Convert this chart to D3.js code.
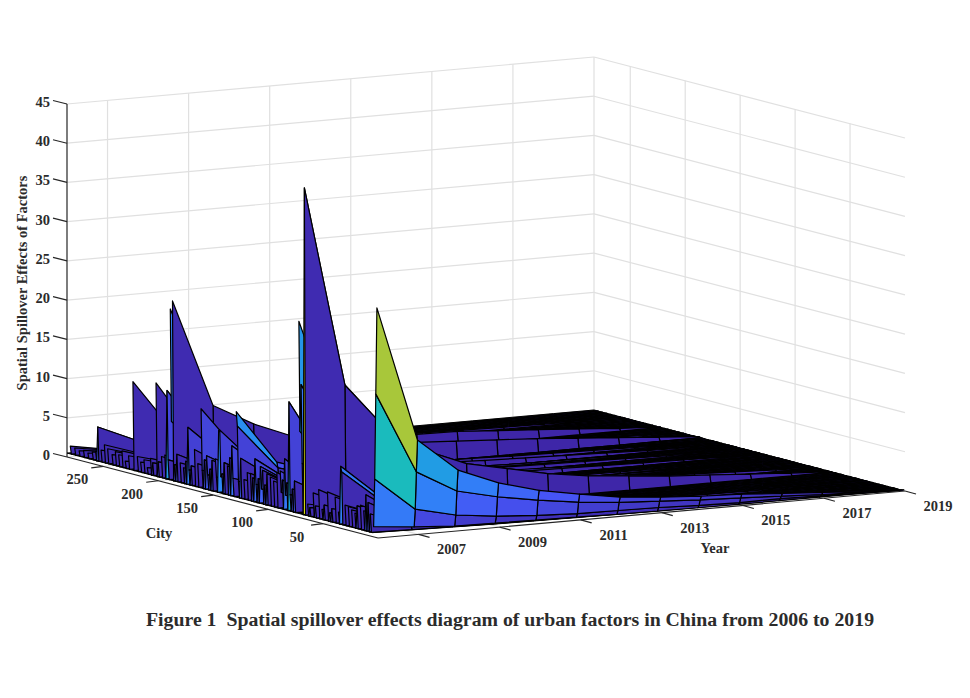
<!DOCTYPE html>
<html>
<head>
<meta charset="utf-8">
<script src="https://cdn.jsdelivr.net/npm/d3@7"></script>
<style>
  html, body { margin: 0; padding: 0; background: #fff; }
  text { font-family: "Liberation Serif", serif; font-weight: bold; fill: #2b2b2b; }
</style>
</head>
<body>
<div id="chart"></div>
<script>
var svgWidth = 970;
var svgHeight = 698;

// Data
var years = [2006, 2007, 2008, 2009, 2010, 2011, 2012, 2013, 2014, 2015, 2016, 2017, 2018, 2019];
var yearTicks = [2007, 2009, 2011, 2013, 2015, 2017, 2019];
var cityTicks = [50, 100, 150, 200, 250];
var valueTicks = [0, 5, 10, 15, 20, 25, 30, 35, 40, 45];
var cityMax = 283;

// the low level of everything that is not a listed city
var floorLevel = [0.5, 0.4, 0.3, 0.2, 0.15, 0.1, 0.05, 0.02, 0, 0, 0, 0, 0, 0];

// the tall spikes, one row of values per city
var cities = [1, 2, 3, 4, 9, 11, 16, 24, 30, 33, 34, 39, 46, 54, 59, 67, 69, 70, 71, 72, 81, 85, 89, 98,
  107, 112, 116, 128, 129, 133, 137, 144, 145, 148, 156, 161, 173, 177, 187, 188, 189, 191, 192, 194,
  202, 205, 210, 223, 230, 239, 246, 255, 257, 264, 280];

var cityValues = [
  [29.3, 12.0, 7.7, 5.6, 4.2, 3.25, 2.4, 1.94, 1.6, 1.4, 1.03, 0.7, 0.35, 0.1],
  [18.3, 7.9, 5.0, 3.8, 2.9, 2.2, 1.7, 1.4, 1.1, 0.9, 0.65, 0.4, 0.2, 0.05],
  [7.4, 3.1, 1.9, 1.3, 0.93, 0.7, 0.63, 0.55, 0.35, 0.25, 0.3, 0.2, 0.05, 0],
  [1.3, 0.8, 0.46, 0.37, 0.3, 0.2, 0.1, 0.05, 0.02, 0, 0, 0, 0, 0],
  [4.2, 1.4, 0.8, 0.5, 0.35, 0.25, 0.2, 0.15, 0.1, 0.1, 0.05, 0.05, 0, 0],
  [5.1, 1.7, 1.0, 0.6, 0.4, 0.3, 0.2, 0.2, 0.1, 0.1, 0.05, 0.05, 0, 0],
  [3.6, 1.3, 0.7, 0.45, 0.3, 0.25, 0.2, 0.1, 0.1, 0.05, 0.05, 0, 0, 0],
  [2.7, 1.0, 0.6, 0.4, 0.3, 0.2, 0.15, 0.1, 0.1, 0.05, 0.05, 0, 0, 0],
  [3.1, 1.2, 0.7, 0.45, 0.3, 0.25, 0.2, 0.1, 0.1, 0.05, 0.05, 0, 0, 0],
  [7.2, 3.0, 1.7, 1.1, 0.8, 0.6, 0.5, 0.4, 0.3, 0.2, 0.15, 0.1, 0.05, 0],
  [7.9, 3.5, 2.0, 1.3, 0.9, 0.7, 0.55, 0.45, 0.35, 0.25, 0.2, 0.1, 0.05, 0],
  [3.8, 1.4, 0.8, 0.5, 0.35, 0.25, 0.2, 0.15, 0.1, 0.1, 0.05, 0, 0, 0],
  [4.2, 1.6, 0.9, 0.55, 0.4, 0.3, 0.2, 0.15, 0.1, 0.1, 0.05, 0, 0, 0],
  [4.2, 1.5, 0.8, 0.5, 0.35, 0.25, 0.2, 0.15, 0.1, 0.05, 0.05, 0, 0, 0],
  [3.6, 1.3, 0.7, 0.45, 0.3, 0.25, 0.2, 0.1, 0.1, 0.05, 0.05, 0, 0, 0],
  [42.2, 16.6, 10.6, 7.3, 5.2, 4.1, 3.0, 2.26, 1.8, 1.3, 0.98, 0.64, 0.3, 0.02],
  [7.0, 2.8, 1.7, 1.1, 0.8, 0.6, 0.5, 0.4, 0.3, 0.2, 0.15, 0.1, 0.05, 0],
  [17.0, 6.8, 4.2, 2.9, 2.1, 1.6, 1.2, 0.9, 0.7, 0.5, 0.4, 0.25, 0.1, 0],
  [11.0, 4.4, 2.8, 1.9, 1.4, 1.1, 0.8, 0.6, 0.5, 0.35, 0.25, 0.15, 0.05, 0],
  [25.0, 10.0, 6.5, 4.5, 3.2, 2.5, 1.9, 1.4, 1.1, 0.8, 0.6, 0.4, 0.2, 0],
  [14.4, 5.8, 3.8, 2.8, 2.2, 1.8, 1.5, 1.2, 1.0, 0.8, 0.6, 0.4, 0.2, 0],
  [7.0, 2.6, 1.5, 1.0, 0.7, 0.5, 0.4, 0.3, 0.25, 0.2, 0.1, 0.05, 0, 0],
  [5.3, 2.0, 1.2, 0.8, 0.55, 0.4, 0.3, 0.25, 0.2, 0.15, 0.1, 0.05, 0, 0],
  [4.2, 1.5, 0.9, 0.6, 0.4, 0.3, 0.2, 0.15, 0.1, 0.1, 0.05, 0, 0, 0],
  [5.2, 1.9, 1.1, 0.7, 0.5, 0.4, 0.3, 0.25, 0.2, 0.15, 0.1, 0.05, 0, 0],
  [6.0, 2.3, 1.4, 0.9, 0.65, 0.5, 0.4, 0.3, 0.25, 0.2, 0.1, 0.05, 0, 0],
  [4.0, 1.5, 0.9, 0.6, 0.4, 0.3, 0.2, 0.15, 0.1, 0.1, 0.05, 0, 0, 0],
  [9.6, 3.8, 2.4, 1.7, 1.3, 1.0, 0.8, 0.6, 0.5, 0.4, 0.3, 0.2, 0.1, 0],
  [11.4, 4.5, 2.9, 2.0, 1.5, 1.2, 1.0, 0.8, 0.65, 0.5, 0.35, 0.25, 0.1, 0],
  [6.9, 2.7, 1.6, 1.1, 0.8, 0.6, 0.5, 0.4, 0.3, 0.25, 0.15, 0.1, 0.05, 0],
  [4.2, 1.6, 1.0, 0.6, 0.45, 0.35, 0.25, 0.2, 0.15, 0.1, 0.05, 0, 0, 0],
  [8.5, 3.2, 2.1, 1.5, 1.1, 0.9, 0.7, 0.55, 0.45, 0.35, 0.25, 0.15, 0.05, 0],
  [8.4, 3.4, 2.2, 1.6, 1.2, 1.0, 0.8, 0.6, 0.5, 0.35, 0.25, 0.15, 0.05, 0],
  [4.7, 1.8, 1.1, 0.7, 0.5, 0.4, 0.3, 0.25, 0.2, 0.15, 0.1, 0.05, 0, 0],
  [4.8, 1.9, 1.2, 0.8, 0.6, 0.45, 0.35, 0.3, 0.2, 0.15, 0.1, 0.05, 0, 0],
  [10.6, 4.2, 2.7, 1.9, 1.5, 1.2, 1.0, 0.8, 0.65, 0.5, 0.35, 0.2, 0.1, 0],
  [7.8, 3.1, 2.0, 1.4, 1.1, 0.9, 0.7, 0.6, 0.45, 0.35, 0.25, 0.15, 0.05, 0],
  [2.5, 1.0, 0.6, 0.4, 0.3, 0.2, 0.15, 0.1, 0.1, 0.05, 0.05, 0, 0, 0],
  [23.4, 9.6, 6.8, 4.7, 3.6, 3.0, 2.6, 2.3, 2.0, 1.7, 1.3, 0.9, 0.5, 0.1],
  [8.0, 3.4, 2.2, 1.6, 1.2, 1.0, 0.85, 0.7, 0.6, 0.5, 0.35, 0.25, 0.1, 0],
  [22.3, 9.0, 6.0, 4.2, 3.2, 2.6, 2.2, 1.9, 1.6, 1.3, 1.0, 0.7, 0.35, 0.05],
  [3.0, 1.2, 0.7, 0.5, 0.35, 0.3, 0.25, 0.2, 0.15, 0.1, 0.05, 0, 0, 0],
  [11.8, 4.7, 3.1, 2.3, 1.8, 1.5, 1.3, 1.1, 0.9, 0.7, 0.5, 0.35, 0.15, 0],
  [3.5, 1.4, 0.8, 0.55, 0.4, 0.3, 0.25, 0.2, 0.15, 0.1, 0.05, 0, 0, 0],
  [12.4, 5.0, 3.3, 2.4, 1.9, 1.6, 1.4, 1.2, 1.0, 0.8, 0.55, 0.35, 0.15, 0],
  [2.1, 0.8, 0.5, 0.35, 0.25, 0.2, 0.15, 0.1, 0.1, 0.05, 0, 0, 0, 0],
  [1.3, 0.6, 0.4, 0.25, 0.2, 0.15, 0.1, 0.1, 0.05, 0.05, 0, 0, 0, 0],
  [11.8, 5.0, 3.4, 2.8, 2.4, 2.1, 2.0, 1.85, 1.76, 1.4, 1.07, 0.7, 0.3, 0.05],
  [1.4, 0.6, 0.4, 0.25, 0.2, 0.15, 0.1, 0.1, 0.05, 0.05, 0, 0, 0, 0],
  [2.3, 0.9, 0.5, 0.35, 0.25, 0.2, 0.15, 0.1, 0.1, 0.05, 0, 0, 0, 0],
  [2.4, 0.9, 0.6, 0.4, 0.3, 0.2, 0.15, 0.1, 0.1, 0.05, 0, 0, 0, 0],
  [4.85, 2.6, 1.7, 1.2, 0.9, 0.7, 0.6, 0.5, 0.4, 0.3, 0.2, 0.15, 0.05, 0],
  [1.7, 0.7, 0.4, 0.3, 0.2, 0.15, 0.1, 0.1, 0.05, 0.05, 0, 0, 0, 0],
  [1.2, 0.5, 0.3, 0.2, 0.15, 0.1, 0.1, 0.05, 0.05, 0, 0, 0, 0, 0],
  [1.5, 0.6, 0.35, 0.25, 0.2, 0.1, 0.1, 0.05, 0.05, 0, 0, 0, 0, 0]
];

// the small clutter along the City axis, only the first years stand off the floor
var smallCities = [7, 13, 19, 21, 27, 36, 42, 44, 49, 51, 57, 62, 64, 76, 78, 80, 83, 84, 87, 88, 92, 95,
  101, 103, 105, 106, 109, 111, 114, 119, 122, 125, 127, 132, 135, 140, 142, 143, 147, 151, 153, 155, 158,
  160, 164, 167, 170, 172, 175, 180, 183, 185, 197, 200, 207, 213, 216, 219, 227, 233, 236, 242, 249, 252,
  260, 268, 272, 276];

var smallStart = [2.8, 3.0, 3.4, 2.4, 3.0, 2.0, 2.2, 1.6, 2.4, 1.8, 2.0, 1.6, 2.0, 4.5, 3.4, 2.6, 4.0, 2.4, 4.2, 2.6, 5.0, 3.8,
  4.5, 3.0, 4.8, 2.4, 3.6, 2.8, 3.5, 4.0, 3.0, 5.6, 2.6, 2.8, 5.3, 4.5, 3.0, 2.6, 2.4, 4.4, 3.2, 2.4, 4.2,
  2.8, 3.5, 5.2, 3.0, 2.4, 3.4, 3.0, 4.0, 2.6, 3.2, 2.4, 2.6, 2.2, 1.8, 2.4, 2.2, 2.6, 2.0, 1.8, 2.8, 2.0,
  1.5, 1.4, 1.2, 1.4];
var smallSecond = [1.1, 1.2, 1.3, 1.0, 1.2, 0.9, 1.0, 0.8, 1.0, 0.9, 0.9, 0.8, 0.9, 1.7, 1.3, 1.0, 1.5, 1.0, 1.6, 1.0, 1.9, 1.4,
  1.7, 1.2, 1.8, 1.0, 1.4, 1.1, 1.3, 1.5, 1.2, 2.1, 1.0, 1.1, 2.0, 1.7, 1.2, 1.0, 1.0, 1.7, 1.2, 1.0, 1.6,
  1.1, 1.3, 2.0, 1.2, 1.0, 1.3, 1.2, 1.5, 1.0, 1.2, 1.0, 1.0, 0.9, 0.8, 1.0, 0.9, 1.0, 0.8, 0.8, 1.1, 0.8,
  0.7, 0.6, 0.6, 0.6];

// the mesh has a seam after these cities, their back face does not show
var seamCities = [187, 189];

// colour stops of the colormap, low to high
var colormap = ["#3e26a8", "#4654f5", "#2e87f7", "#1fa0e0", "#0cb5d0", "#37c897", "#7fca5e", "#abc738", "#e9ba3d", "#fbd030", "#f9fb15"];

// Box corners on the page: the view is orthographic, so all three axes are plain linear offsets
var origin = { x: 378, y: 538 };
var yearX = d3.scaleLinear().domain([2006, 2019]).range([0, 527]);
var yearY = d3.scaleLinear().domain([2006, 2019]).range([0, -47]);
var cityX = d3.scaleLinear().domain([0, cityMax]).range([0, -311]);
var cityY = d3.scaleLinear().domain([0, cityMax]).range([0, -81]);
var valueY = d3.scaleLinear().domain([0, 45]).range([0, -353]);

var zMax = d3.max(cityValues, d => d3.max(d));
var colorScale = d3.scaleLinear()
  .domain(colormap.map((c, i) => zMax * i / (colormap.length - 1)))
  .range(colormap);

function project(year, city, value) {
  return [
    origin.x + yearX(year) + cityX(city),
    origin.y + yearY(year) + cityY(city) + valueY(value)
  ];
}

var svg = d3.select("#chart")
  .append("svg")
  .attr("width", svgWidth)
  .attr("height", svgHeight);

function drawLine(group, a, b) {
  group.append("line")
    .attr("x1", a[0]).attr("y1", a[1])
    .attr("x2", b[0]).attr("y2", b[1]);
}

// Grid on the two back walls and the floor
var grid = svg.append("g")
  .attr("stroke", "#e0e0e0")
  .attr("stroke-width", 1.2);

valueTicks.forEach(function(v) {
  drawLine(grid, project(2006, cityMax, v), project(2019, cityMax, v));
  drawLine(grid, project(2019, cityMax, v), project(2019, 0, v));
});
yearTicks.forEach(function(y) {
  drawLine(grid, project(y, cityMax, 0), project(y, cityMax, 45));
  drawLine(grid, project(y, 0, 0), project(y, cityMax, 0));
});
cityTicks.forEach(function(c) {
  drawLine(grid, project(2019, c, 0), project(2019, c, 45));
  drawLine(grid, project(2006, c, 0), project(2019, c, 0));
});

// Axis lines and tick marks
var axes = svg.append("g")
  .attr("stroke", "#262626")
  .attr("stroke-width", 1.2);

drawLine(axes, project(2006, cityMax, 0), project(2006, cityMax, 45));
drawLine(axes, project(2006, cityMax, 0), project(2006, 0, 0));
drawLine(axes, project(2006, 0, 0), project(2019, 0, 0));

var labels = svg.append("g").attr("font-size", 14.5);

valueTicks.forEach(function(v) {
  var p = project(2006, cityMax, v);
  drawLine(axes, p, [p[0] - 14, p[1] - 3.5]);
  labels.append("text")
    .attr("x", p[0] - 17).attr("y", p[1] + 3)
    .attr("text-anchor", "end")
    .text(v);
});
cityTicks.forEach(function(c) {
  var p = project(2006, c, 0);
  drawLine(axes, p, [p[0] - 12, p[1] + 1.5]);
  labels.append("text")
    .attr("x", p[0] - 26).attr("y", p[1] + 18)
    .attr("text-anchor", "middle")
    .text(c);
});
yearTicks.forEach(function(y) {
  var p = project(y, 0, 0);
  drawLine(axes, p, [p[0] + 11, p[1] + 3]);
  labels.append("text")
    .attr("x", p[0] + 33).attr("y", p[1] + 20)
    .attr("text-anchor", "middle")
    .text(y);
});

// Floor: the dense mesh of the low cities merges to solid black at this scale
var floorTop = years.map((y, i) => project(y, cityMax, floorLevel[i]));
var floorFront = years.map((y, i) => project(y, 5, floorLevel[i])).reverse();
svg.append("polygon")
  .attr("points", floorTop.concat(floorFront).join(" "))
  .attr("fill", "#000")
  .attr("stroke", "#000");

// Rows of the mesh: every listed city, plus the floor row just in front of it
var rowByCity = new Map();
smallCities.concat(cities).forEach(function(c) {
  if (c > 1 && !rowByCity.has(c - 1)) rowByCity.set(c - 1, floorLevel);
});
smallCities.forEach(function(c, i) {
  // after the second year the small ones sit on the floor
  rowByCity.set(c, [smallStart[i], smallSecond[i]].concat(floorLevel.slice(2)));
});
cities.forEach(function(c, i) { rowByCity.set(c, cityValues[i]); });

// Faces take their colour from their lowest-index corner, as a faceted surface does
var faces = [];
Array.from(rowByCity.keys()).sort(d3.descending).forEach(function(c) {
  if (!rowByCity.has(c + 1) || seamCities.includes(c)) return;
  var row = rowByCity.get(c);
  var next = rowByCity.get(c + 1);
  for (var j = years.length - 2; j >= 0; j--) {
    faces.push({
      value: row[j],
      points: [
        project(years[j], c, row[j]),
        project(years[j + 1], c, row[j + 1]),
        project(years[j + 1], c + 1, next[j + 1]),
        project(years[j], c + 1, next[j])
      ]
    });
  }
});

svg.append("g").selectAll("polygon")
  .data(faces)
  .enter()
  .append("polygon")
  .attr("points", d => d.points.join(" "))
  .attr("fill", d => colorScale(d.value))
  .attr("stroke", "#000")
  .attr("stroke-width", 1.2)
  .attr("stroke-linejoin", "round");

// Axis titles and caption
labels.append("text").attr("x", 159).attr("y", 538).attr("text-anchor", "middle").text("City");
labels.append("text").attr("x", 715).attr("y", 553).attr("text-anchor", "middle").text("Year");
labels.append("text")
  .attr("transform", "translate(27, 283) rotate(-90)")
  .attr("text-anchor", "middle")
  .text("Spatial Spillover Effects of Factors");

svg.append("text")
  .attr("x", 146).attr("y", 626)
  .attr("font-size", 19.8)
  .style("white-space", "pre")
  .text("Figure 1  Spatial spillover effects diagram of urban factors in China from 2006 to 2019");
</script>
</body>
</html>
